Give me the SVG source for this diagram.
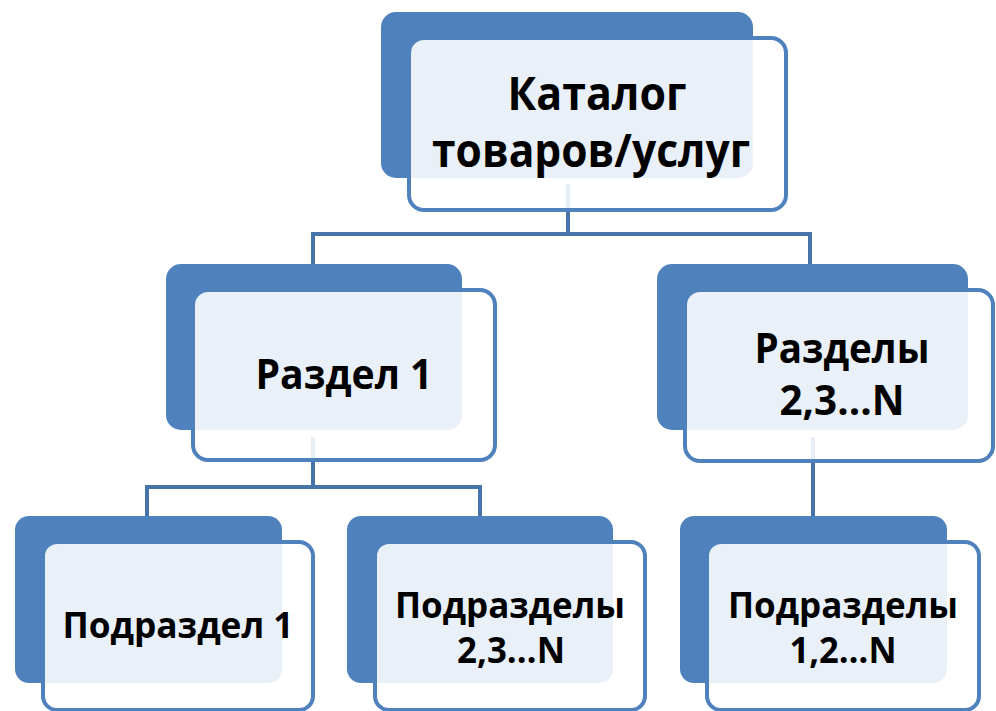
<svg xmlns="http://www.w3.org/2000/svg" width="996" height="711" viewBox="0 0 996 711">
<style>
.back{fill:#4F81BD}
.front{fill:#FFFFFF;fill-opacity:0.88;stroke:#4F81BD;stroke-width:4}
.conn{fill:none;stroke:#4674AA;stroke-width:4}
text{font-family:"Open Sans","Noto Sans","DejaVu Sans",sans-serif;font-weight:bold;fill:#000;text-anchor:middle}
.t1{font-size:47px}
.t2{font-size:41px}
.t3{font-size:35px}
</style>
<rect width="996" height="711" fill="#FFFFFF"/>
<g id="connectors">
<path class="conn" d="M568,184 V234 M313,234 H810 M313,232 V265 M810,232 V265"/>
<path class="conn" d="M313,437 V487 M147,487 H480 M147,485 V516 M480,485 V516"/>
<path class="conn" d="M813,437 V516"/>
</g>
<g id="node-catalog">
<rect class="back" x="381" y="12" width="372" height="166" rx="15"/>
<rect class="front" x="409" y="38" width="377" height="172" rx="15"/>
<text class="t1" x="597" y="110" textLength="179" lengthAdjust="spacingAndGlyphs">Каталог</text>
<text class="t1" x="591" y="167" textLength="318" lengthAdjust="spacingAndGlyphs">товаров/услуг</text>
</g>
<g id="node-razdel1">
<rect class="back" x="166" y="264" width="296" height="166" rx="15"/>
<rect class="front" x="193" y="290" width="302" height="170" rx="15"/>
<text class="t2" x="344" y="389" textLength="177" lengthAdjust="spacingAndGlyphs">Раздел 1</text>
</g>
<g id="node-razdely">
<rect class="back" x="657" y="264" width="311" height="166" rx="15"/>
<rect class="front" x="685" y="290" width="308" height="171" rx="15"/>
<text class="t2" x="842" y="363" textLength="175" lengthAdjust="spacingAndGlyphs">Разделы</text>
<text class="t2" x="842" y="415" textLength="125" lengthAdjust="spacingAndGlyphs">2,3…N</text>
</g>
<g id="node-podrazdel1">
<rect class="back" x="15" y="516" width="267" height="167" rx="14"/>
<rect class="front" x="43" y="542" width="270" height="168" rx="14"/>
<text class="t3" x="178" y="638" textLength="231" lengthAdjust="spacingAndGlyphs">Подраздел 1</text>
</g>
<g id="node-podrazdely23">
<rect class="back" x="347" y="516" width="266" height="167" rx="14"/>
<rect class="front" x="375" y="542" width="270" height="168" rx="14"/>
<text class="t3" x="510" y="618" textLength="230" lengthAdjust="spacingAndGlyphs">Подразделы</text>
<text class="t3" x="511" y="663" textLength="108" lengthAdjust="spacingAndGlyphs">2,3…N</text>
</g>
<g id="node-podrazdely12">
<rect class="back" x="680" y="516" width="267" height="167" rx="14"/>
<rect class="front" x="707" y="542" width="272" height="168" rx="14"/>
<text class="t3" x="843" y="618" textLength="230" lengthAdjust="spacingAndGlyphs">Подразделы</text>
<text class="t3" x="843" y="663" textLength="107" lengthAdjust="spacingAndGlyphs">1,2…N</text>
</g>
</svg>
